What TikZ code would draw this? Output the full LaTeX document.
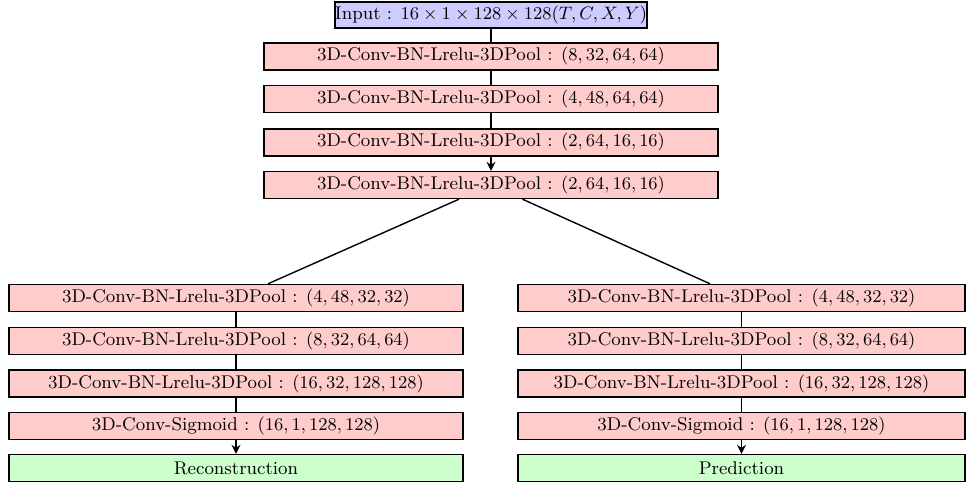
\documentclass[tikz,border=0pt]{standalone}
\usetikzlibrary{arrows.meta}
\begin{document}
\begin{tikzpicture}[x=0.5pt,y=-0.5pt,
  every node/.style={font=\fontsize{9.2}{11}\selectfont},
  blk/.style={draw=black, line width=0.7pt, minimum height=13.5pt, inner sep=0pt, anchor=center},
  inbox/.style={blk, fill=blue!20, minimum width=152pt, minimum height=13pt},
  pinkbox/.style={blk, fill=red!20, minimum width=227pt},
  pinkboxr/.style={blk, fill=red!20, minimum width=223.5pt},
  greenbox/.style={blk, fill=green!20, minimum width=227pt},
  greenboxr/.style={blk, fill=green!20, minimum width=223.5pt},
  conn/.style={line width=0.7pt},
  arr/.style={line width=0.7pt, -{Stealth[length=4.5pt,width=4.5pt,inset=1.5pt]}}]
\useasboundingbox (0,0) rectangle (966,487);
\node[inbox] (in) at (491,15) {Input : $16\times1\times128\times128 (T,C,X,Y)$};
\node[pinkbox] (t1) at (491,56.5) {3D-Conv-BN-Lrelu-3DPool : $(8,32,64,64)$};
\node[pinkbox] (t2) at (491,99) {3D-Conv-BN-Lrelu-3DPool : $(4,48,64,64)$};
\node[pinkbox] (t3) at (491,142.5) {3D-Conv-BN-Lrelu-3DPool : $(2,64,16,16)$};
\node[pinkbox] (t4) at (491,185) {3D-Conv-BN-Lrelu-3DPool : $(2,64,16,16)$};
\node[pinkbox] (l1) at (236,298) {3D-Conv-BN-Lrelu-3DPool : $(4,48,32,32)$};
\node[pinkbox] (l2) at (236,341) {3D-Conv-BN-Lrelu-3DPool : $(8,32,64,64)$};
\node[pinkbox] (l3) at (236,383.5) {3D-Conv-BN-Lrelu-3DPool : $(16,32,128,128)$};
\node[pinkbox] (l4) at (236,426) {3D-Conv-Sigmoid : $(16,1,128,128)$};
\node[greenbox] (l5) at (236,468) {Reconstruction};
\node[pinkboxr] (r1) at (741.5,298) {3D-Conv-BN-Lrelu-3DPool : $(4,48,32,32)$};
\node[pinkboxr] (r2) at (741.5,341) {3D-Conv-BN-Lrelu-3DPool : $(8,32,64,64)$};
\node[pinkboxr] (r3) at (741.5,383.5) {3D-Conv-BN-Lrelu-3DPool : $(16,32,128,128)$};
\node[pinkboxr] (r4) at (741.5,426) {3D-Conv-Sigmoid : $(16,1,128,128)$};
\node[greenboxr] (r5) at (741.5,468) {Prediction};
\draw[conn] (in) -- (t1);
\draw[conn] (t1) -- (t2);
\draw[conn] (t2) -- (t3);
\draw[arr] (t3) -- (t4);
\draw[conn] (t4) -- (l1);
\draw[conn] (t4) -- (r1);
\draw[conn] (l1) -- (l2);
\draw[conn] (l2) -- (l3);
\draw[conn] (l3) -- (l4);
\draw[arr] (l4) -- (l5);
\draw[conn] (r1) -- (r2);
\draw[conn] (r2) -- (r3);
\draw[conn] (r3) -- (r4);
\draw[arr] (r4) -- (r5);
\end{tikzpicture}
\end{document}
